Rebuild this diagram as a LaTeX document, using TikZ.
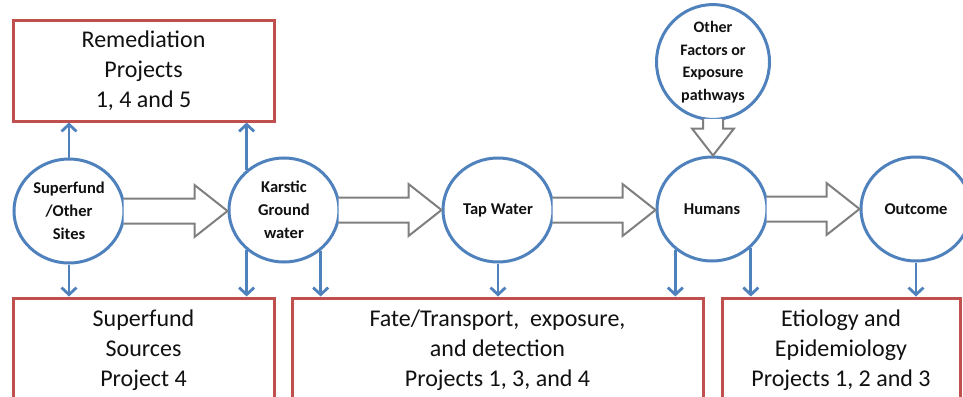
\documentclass[tikz,border=0pt]{standalone}
\usepackage{fontspec}
\setmainfont{Carlito}
\usetikzlibrary{shapes.geometric,arrows.meta,calc}
\definecolor{cblue}{HTML}{4F81BD}
\definecolor{cred}{HTML}{C0504D}
\definecolor{cgray}{HTML}{7F7F7F}
\definecolor{ctext}{HTML}{111111}
\tikzset{
  circ/.style={ellipse, draw=cblue, line width=3pt, fill=white, minimum width=110pt, minimum height=104pt, inner sep=0pt, align=center, text=ctext, font=\fontsize{16.5}{23}\selectfont\bfseries},
  boxn/.style={rectangle, draw=cred, line width=3pt, fill=white, inner sep=0pt, align=center, text=ctext, font=\fontsize{24}{30}\selectfont},
  bluearr/.style={draw=cblue, line width=2.8pt, -{Straight Barb[length=7pt,width=15pt]}},
  hollow/.style={draw=cgray, line width=2pt, fill=white, line join=miter}
}
\newcommand{\harrow}[2]{%
  \path[hollow] let \p1=(#1.east), \p2=(#2.west) in
    (\x1-2pt,\y1+12.5pt) -- (\x2-33pt,\y1+12.5pt) -- (\x2-33pt,\y1+26pt) -- (\x2,\y1) --
    (\x2-33pt,\y1-26pt) -- (\x2-33pt,\y1-12.5pt) -- (\x1-2pt,\y1-12.5pt);
}
\begin{document}
\begin{tikzpicture}[x=1pt,y=-1pt]
\useasboundingbox (0,0) rectangle (963,396);
% boxes
\node[boxn, minimum width=261pt, minimum height=100pt] (rem) at (143.5,71) {Remediation\\Projects\\1, 4 and 5};
\node[boxn, minimum width=261pt, minimum height=104pt] (src) at (143.5,350) {Superfund\\Sources\\Project 4};
\node[boxn, minimum width=411pt, minimum height=104pt] (fate) at (497.5,350) {Fate/Transport,\ \ exposure,\\and detection\\Projects 1, 3, and 4};
\node[boxn, minimum width=238pt, minimum height=104pt] (etio) at (841,350) {Etiology and\\Epidemiology\\Projects 1, 2 and 3};
% circles
\node[circ] (sf) at (69,211) {Superfund\\/Other\\Sites};
\node[circ] (kg) at (284,210) {Karstic\\Ground\\water};
\node[circ] (tw) at (498,210) {Tap Water};
\node[circ] (hu) at (712,209) {Humans};
\node[circ] (oc) at (916,209) {Outcome};
\node[circ, minimum width=113pt, minimum height=105pt, font=\fontsize{16}{22.5}\selectfont\bfseries] (of) at (713,62) {Other\\Factors or\\Exposure\\pathways};
% hollow arrows
\harrow{sf}{kg}
\harrow{kg}{tw}
\harrow{tw}{hu}
\harrow{hu}{oc}
\path[hollow] let \p1=(of.south), \p2=(hu.north) in
  (\x1-10pt,\y1+2pt) -- (\x1-10pt,\y2+27pt) -- (\x1-21pt,\y2+27pt) -- (\x1,\y2) --
  (\x1+21pt,\y2+27pt) -- (\x1+10pt,\y2+27pt) -- (\x1+10pt,\y1+2pt);
% blue arrows
\draw[bluearr] (sf.north) -- (sf.north |- rem.south);
\draw[bluearr] (sf.south) -- (sf.south |- src.north);
\draw[bluearr] (kg.133) -- (kg.133 |- rem.south);
\draw[bluearr] (kg.227) -- (kg.227 |- src.north);
\draw[bluearr] (kg.312) -- (kg.312 |- fate.north);
\draw[bluearr] (tw.south) -- (tw.south |- fate.north);
\draw[bluearr] (hu.228) -- (hu.228 |- fate.north);
\draw[bluearr] (hu.315) -- (hu.315 |- etio.north);
\draw[bluearr] (oc.south) -- (oc.south |- etio.north);
\end{tikzpicture}
\end{document}
